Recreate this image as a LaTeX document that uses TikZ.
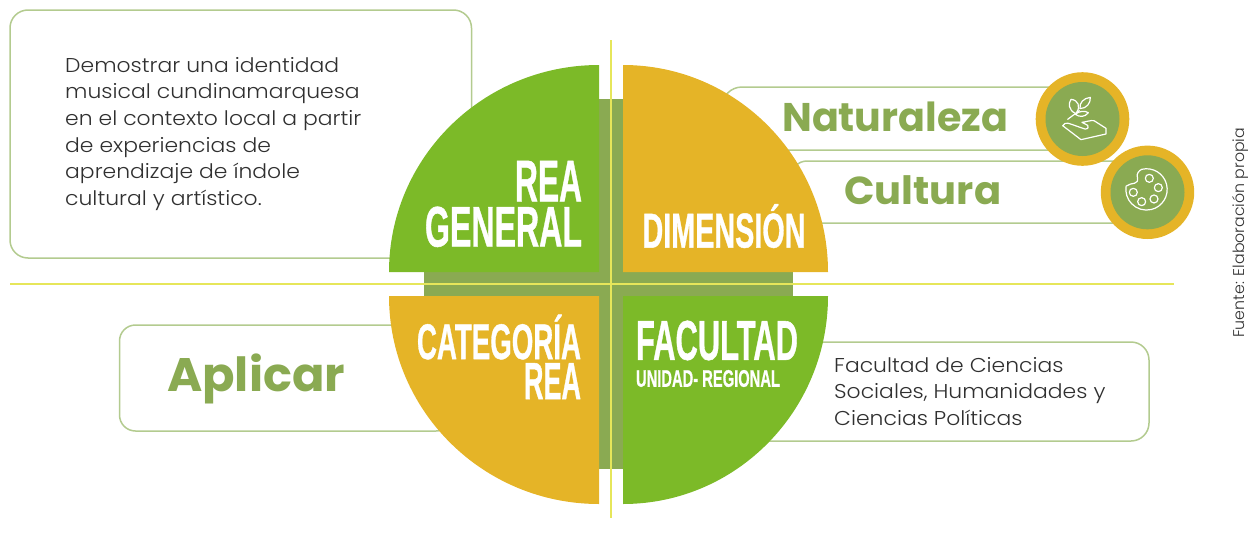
\documentclass[tikz,border=0pt]{standalone}
\usepackage{fontspec}
\usepackage{graphicx}
\setmainfont{Poppins}
\newfontfamily\bodyfont[FakeStretch=1.095]{Poppins Light}
\newfontfamily\condfont[FakeBold=1.0]{Liberation Sans}
\definecolor{olive}{HTML}{8AAA52}
\definecolor{amber}{HTML}{E5B427}
\definecolor{leaf}{HTML}{7CBA28}
\definecolor{edge}{HTML}{B3CB8F}
\definecolor{guide}{HTML}{E6E65A}
\definecolor{ink}{HTML}{303030}
\newcommand{\fitline}[3]{\resizebox{#1pt}{\height}{\fontsize{#2}{#2}\selectfont #3}}
\newcommand{\cond}[3]{\resizebox{#1pt}{\height}{\fontsize{#2}{#2}\selectfont\condfont\bfseries #3}}
\tikzset{
  panel/.style={draw=edge,line width=1.5pt,rounded corners=#1,fill=white},
  quad/.style={inner sep=0pt,text=white,outer sep=0pt},
  body/.style={inner sep=0pt,text=ink,align=left,font=\bodyfont\fontsize{20}{26.6}\selectfont},
  head/.style={inner sep=0pt,text=olive,font=\bfseries},
  icon/.style={draw=white,line width=1.2pt,line join=round,line cap=round}
}
\begin{document}
\begin{tikzpicture}[x=1pt,y=-1pt]
\useasboundingbox (0,0) rectangle (1248,533);
% panels
\draw[panel=18pt] (10,10) rectangle (471.5,258);
\draw[panel=16pt] (119.5,325) rectangle (452,431);
\draw[panel=18pt] (735,342) rectangle (1149,441);
\draw[panel=20pt] (722,87) rectangle (1100,150);
\draw[panel=16pt] (791,161) rectangle (1160,223);
% cross
\fill[olive] (424,272) rectangle (793,296);
\fill[olive] (599,99) rectangle (623,469);
% quadrants
\fill[leaf] (599,272) -- (389,272) arc[start angle=180,end angle=270,x radius=210,y radius=207] -- cycle;
\fill[amber] (623,272) -- (623,65) arc[start angle=270,end angle=360,x radius=205,y radius=207] -- cycle;
\fill[amber] (599,296) -- (389,296) arc[start angle=180,end angle=90,x radius=210,y radius=208] -- cycle;
\fill[leaf] (623,296) -- (623,504) arc[start angle=90,end angle=0,x radius=205,y radius=208] -- cycle;
% guides
\draw[guide,line width=1.3pt] (611,40) -- (611,518);
\draw[guide,line width=1.3pt] (10,284) -- (1174,284);
% medallions
\fill[amber] (1082.5,119) circle[radius=46.8];
\fill[olive] (1082.5,119) circle[radius=37];
\fill[amber] (1147.5,192.3) circle[radius=46.7];
\fill[olive] (1147.5,192.3) circle[radius=37];
% plant in hand
\begin{scope}[shift={(1020,60)},x=0.3333pt,y=-0.3333pt]
\draw[icon] (128,197) .. controls (132,190) and (138,188) .. (145,190) .. controls (160,194) and (178,202) .. (195,207) .. controls (204,208) and (208,200) .. (203,196) -- (186,187) .. controls (198,186) and (212,180) .. (222,182) -- (258,205) -- (258,222) -- (183,239) -- cycle;
\draw[icon] (143,178) -- (178,152);
\draw[icon] (166,160) .. controls (145,150) and (145,130) .. (153,118) .. controls (175,120) and (182,140) .. (170,157);
\draw[icon] (180,146) .. controls (178,128) and (190,115) .. (211,112) .. controls (212,130) and (200,145) .. (180,146);
\draw[icon] (166,163) .. controls (178,152) and (195,152) .. (205,158) .. controls (195,172) and (178,172) .. (166,163);
\end{scope}
% palette
\begin{scope}[shift={(1020,60)},x=0.3333pt,y=-0.3333pt]
\draw[icon] (365,328) arc[start angle=-103.6,end angle=189.2,radius=62] .. controls (335,365) and (358,378) .. (352,350) .. controls (350,340) and (356,333) .. (365,328) -- cycle;
\draw[icon] (388,355) circle[radius=12];
\draw[icon] (415,383) circle[radius=12];
\draw[icon] (402,417) circle[radius=12];
\draw[icon] (365,425) circle[radius=12];
\draw[icon] (340,397) circle[radius=12];
\end{scope}
% texts
\node[body,anchor=north west] (objetivo) at (65,57) {Demostrar una identidad\\musical cundinamarquesa\\en el contexto local a partir\\de experiencias de\\aprendizaje de índole\\cultural y artístico.};
\node[body,anchor=north west] (facultadtxt) at (834,357) {Facultad de Ciencias\\Sociales, Humanidades y\\Ciencias Políticas};
\node[head,anchor=base west] (aplicar) at (167,391) {\fitline{178}{47}{Aplicar}};
\node[head,anchor=base west] (naturaleza) at (782,131) {\fitline{226}{40}{Naturaleza}};
\node[head,anchor=base west] (cultura) at (844,204) {\fitline{157}{39}{Cultura}};
\node[quad,anchor=south east,align=right,font=\fontsize{10}{45}\selectfont] (general) at (582,247) {\cond{67}{59}{REA}\\\cond{157}{57}{GENERAL}};
\node[quad,anchor=south west] (dimension) at (642.5,248) {\cond{163}{49}{DIMENSIÓN}};
\node[quad,anchor=south east,align=right,font=\fontsize{10}{40}\selectfont] (categoria) at (581,399) {\cond{164}{50}{CATEGORÍA}\\\cond{57}{52}{REA}};
\node[quad,anchor=south west,align=left,font=\fontsize{10}{27}\selectfont] (facultad) at (636,387) {\cond{162}{56}{FACULTAD}\\\cond{144}{24}{UNIDAD- REGIONAL}};
\node[inner sep=0pt,text=ink,rotate=90,anchor=base west,font=\bodyfont] (fuente) at (1244,338) {\fitline{210}{15.5}{Fuente: Elaboración propia}};
\end{tikzpicture}
\end{document}
